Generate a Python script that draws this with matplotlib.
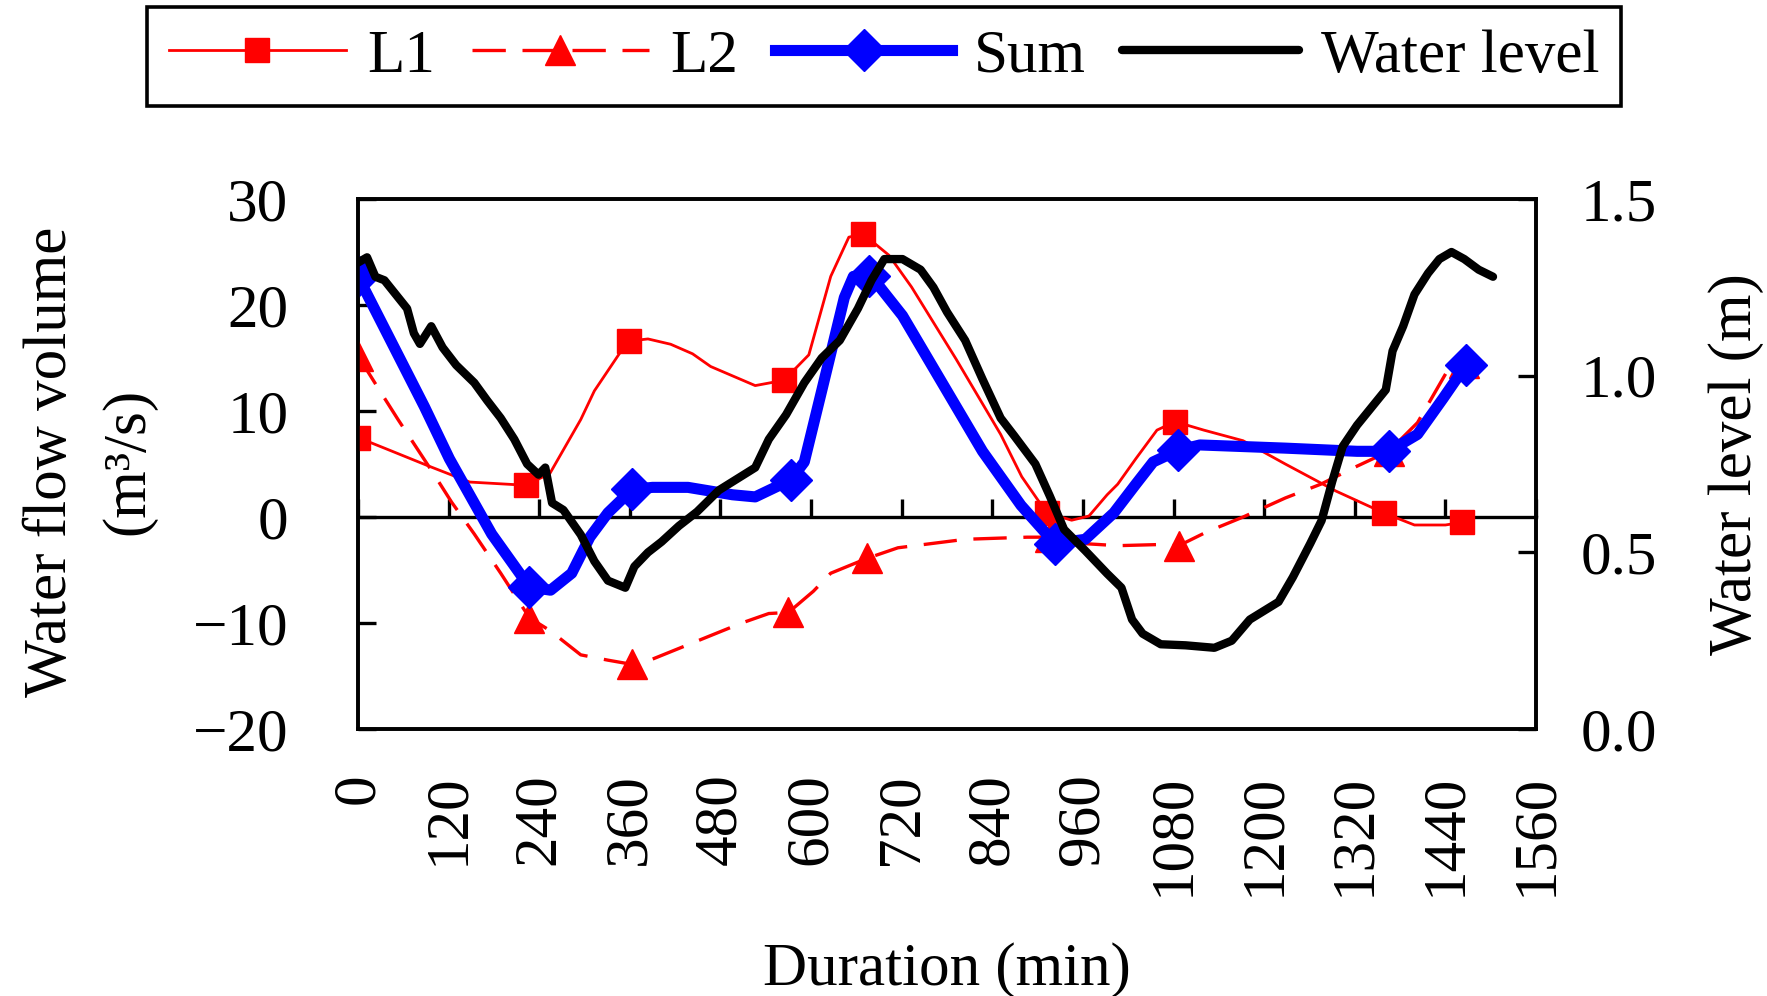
import matplotlib
matplotlib.use("Agg")
import matplotlib.pyplot as plt
from matplotlib.ticker import FormatStrFormatter

# ---------------- data ----------------
l1_t = [0, 35, 94, 148, 222, 254, 295, 313, 346, 359, 384, 414, 443, 467, 526, 564,
        597, 626, 650, 669, 703, 733, 792, 851, 879, 912, 945, 968, 992, 1006, 1030,
        1058, 1082, 1120, 1172, 1228, 1295, 1358, 1399, 1440, 1462]
l1_v = [7.5, 6.5, 4.8, 3.3, 3.0, 4.1, 9.2, 11.9, 15.4, 16.6, 16.8, 16.3, 15.4, 14.2, 12.4, 12.9,
        15.3, 22.7, 26.4, 26.7, 24.7, 21.7, 14.9, 7.8, 3.8, 0.4, -0.3, 0.1, 2.1, 3.1, 5.5,
        8.2, 9.0, 8.2, 7.2, 5.0, 2.45, 0.4, -0.75, -0.75, -0.5]
l1_mark_t = [0, 222, 359, 564, 669, 912, 1082, 1358, 1462]

l2_t = [0, 29, 53, 100, 124, 154, 189, 227, 254, 295, 331, 363, 390, 449, 508, 544, 570,
        603, 626, 674, 715, 804, 886, 917, 960, 1006, 1058, 1087, 1124, 1172, 1228, 1275,
        1323, 1365, 1403, 1441, 1465]
l2_v = [15.2, 11.9, 9.2, 4.1, 1.4, -1.6, -5.3, -9.5, -10.7, -13.0, -13.5, -13.9, -13.4, -11.7,
        -10.0, -9.1, -9.0, -7.0, -5.3, -3.9, -2.9, -2.1, -1.9, -1.9, -2.5, -2.7, -2.6, -2.7,
        -1.4, 0.0, 1.8, 3.1, 4.8, 6.2, 8.9, 13.6, 14.5]
l2_mark_t = [0, 227, 363, 570, 674, 917, 1087, 1365, 1465]

sum_t = [0, 88, 121, 177, 227, 255, 283, 307, 331, 363, 390, 437, 496, 526, 573, 591, 614,
         644, 656, 677, 691, 721, 774, 827, 878, 923, 963, 1001, 1030, 1053, 1086, 1115,
         1228, 1323, 1365, 1403, 1437, 1467]
sum_v = [22.7, 10.4, 5.5, -1.6, -6.6, -6.9, -5.3, -1.9, 0.4, 2.6, 2.8, 2.8, 2.1, 1.9, 3.5, 5.2,
         11.9, 20.7, 22.7, 22.7, 21.7, 19.0, 12.6, 6.2, 1.1, -2.5, -2.1, 0.4, 3.1, 5.2, 6.3,
         6.8, 6.5, 6.2, 6.2, 7.8, 11.2, 14.3]
sum_mark_t = [0, 227, 363, 573, 677, 923, 1086, 1365, 1467]

wl_t = [0, 12, 23, 35, 50, 65, 74, 82, 97, 112, 130, 154, 171, 189, 207, 224, 239, 248, 257,
        272, 295, 313, 331, 354, 366, 384, 402, 425, 449, 478, 496, 526, 544, 567, 591, 614,
        638, 662, 680, 697, 721, 745, 762, 780, 804, 827, 851, 869, 897, 916, 935, 963, 992,
        1011, 1025, 1039, 1063, 1096, 1134, 1157, 1181, 1219, 1238, 1261, 1276, 1290, 1304,
        1323, 1342, 1361, 1370, 1384, 1399, 1417, 1432, 1448, 1465, 1484, 1503]
wl_v = [1.32, 1.335, 1.28, 1.27, 1.23, 1.19, 1.12, 1.09, 1.14, 1.08, 1.03, 0.98, 0.93, 0.88,
        0.82, 0.75, 0.72, 0.74, 0.64, 0.62, 0.55, 0.475, 0.42, 0.40, 0.46, 0.50, 0.53, 0.575,
        0.615, 0.676, 0.70, 0.74, 0.82, 0.89, 0.98, 1.05, 1.10, 1.19, 1.27, 1.33, 1.33, 1.30,
        1.25, 1.18, 1.10, 0.99, 0.88, 0.83, 0.75, 0.66, 0.565, 0.505, 0.44, 0.40, 0.31, 0.27,
        0.24, 0.237, 0.23, 0.25, 0.31, 0.36, 0.43, 0.525, 0.59, 0.70, 0.80, 0.86, 0.91, 0.96,
        1.07, 1.14, 1.23, 1.29, 1.33, 1.35, 1.33, 1.30, 1.28]

x_ticks = list(range(0, 1561, 120))
left_ticks = [-20, -10, 0, 10, 20, 30]
right_ticks = [0.0, 0.5, 1.0, 1.5]

series_labels = ["L1", "L2", "Sum", "Water level"]
x_label = "Duration (min)"
left_label = "Water flow volume\n(m³/s)"
right_label = "Water level (m)"

# ---------------- styling ----------------
plt.rcParams['font.family'] = ['Liberation Serif', 'DejaVu Serif']
FS = 44
SPW = 2.6

fig = plt.figure(figsize=(17.67, 9.96), dpi=100)
ax = fig.add_axes([0.2026, 0.268, 0.6667, 0.5322])


def mark_idx(ts, marks):
    return [ts.index(m) for m in marks]


h1, = ax.plot(l1_t, l1_v, color='#ff0000', lw=2.0, marker='s', ms=17,
              markevery=mark_idx(l1_t, l1_mark_t), label=series_labels[0], zorder=3)
h2, = ax.plot(l2_t, l2_v, color='#ff0000', lw=2.4, ls=(0, (10, 5)), marker='^', ms=21,
              markevery=mark_idx(l2_t, l2_mark_t), label=series_labels[1], zorder=3)
h3, = ax.plot(sum_t, sum_v, color='#0000ff', lw=8, marker='D', ms=21,
              markevery=mark_idx(sum_t, sum_mark_t), label=series_labels[2], zorder=4,
              solid_joinstyle='round')

ax.set_xlim(0, 1560)
ax.set_ylim(-20, 30)
for s in ax.spines.values():
    s.set_linewidth(SPW)
ax.spines['bottom'].set_position(('data', 0))
ax.spines['bottom'].set_linewidth(2.4)
ax.set_xticks(x_ticks)
ax.tick_params(axis='x', direction='in', length=13, width=2.4, labelbottom=False)
ax.set_yticks(left_ticks)
ax.tick_params(axis='y', direction='in', length=13, width=2.4, labelsize=FS, pad=50)

sec = ax.secondary_xaxis('bottom')
sec.set_xticks(x_ticks)
sec.tick_params(length=0, labelsize=FS, pad=32, labelrotation=90)
sec.spines['bottom'].set_linewidth(SPW)

ax2 = ax.twinx()
h4, = ax2.plot(wl_t, wl_v, color='black', lw=6, label=series_labels[3],
               solid_joinstyle='round', solid_capstyle='round')
ax2.set_ylim(0, 1.5)
ax2.set_yticks(right_ticks)
ax2.yaxis.set_major_formatter(FormatStrFormatter('%.1f'))
ax2.tick_params(axis='y', direction='in', length=13, width=2.4, labelsize=FS, pad=32)
for s in ax2.spines.values():
    s.set_linewidth(SPW)

ax.set_ylabel(left_label, fontsize=FS, linespacing=1.5)
ax.yaxis.label.set_va('center')
ax.yaxis.set_label_coords(-0.2275, 0.504)

ax2.set_ylabel(right_label, fontsize=FS, rotation=90)
ax2.yaxis.label.set_va('center')
ax2.yaxis.set_label_coords(1.17, 0.5)

ax.set_xlabel(x_label, fontsize=FS)
ax.xaxis.label.set_va('center')
ax.xaxis.set_label_coords(0.5, -0.455)

leg = fig.legend(handles=[h1, h2, h3, h4], loc='center', bbox_to_anchor=(0.5003, 0.943),
                 ncol=4, fontsize=FS, frameon=True, fancybox=False, edgecolor='black',
                 handlelength=2.9, handletextpad=0.35, columnspacing=0.6,
                 borderpad=0.35, borderaxespad=0)
leg.get_frame().set_linewidth(2.6)
leg.get_frame().set_alpha(1)

fig.savefig("out.png", dpi=100)
